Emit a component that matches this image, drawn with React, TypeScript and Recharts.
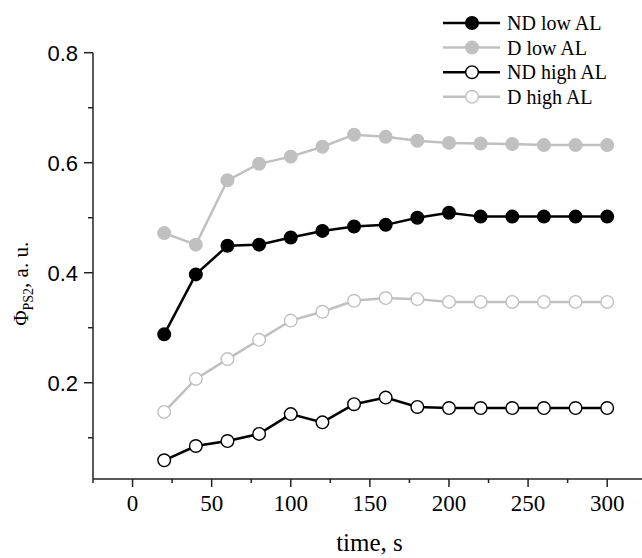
import React from "react";
import { LineChart, Line, XAxis, YAxis, Legend } from "recharts";

const times = [20, 40, 60, 80, 100, 120, 140, 160, 180, 200, 220, 240, 260, 280, 300];
const ndLow = [0.288, 0.397, 0.449, 0.451, 0.464, 0.476, 0.484, 0.487, 0.5, 0.509, 0.502, 0.502, 0.502, 0.502, 0.502];
const dLow = [0.472, 0.451, 0.568, 0.598, 0.611, 0.629, 0.651, 0.647, 0.64, 0.636, 0.635, 0.634, 0.632, 0.632, 0.632];
const ndHigh = [0.059, 0.085, 0.094, 0.107, 0.143, 0.128, 0.161, 0.173, 0.156, 0.154, 0.154, 0.154, 0.154, 0.154, 0.154];
const dHigh = [0.147, 0.207, 0.243, 0.278, 0.313, 0.329, 0.349, 0.354, 0.352, 0.347, 0.347, 0.347, 0.347, 0.347, 0.347];

const xTicks = [-25, 0, 25, 50, 75, 100, 125, 150, 175, 200, 225, 250, 275, 300];
const xMajor = [0, 50, 100, 150, 200, 250, 300];
const yTicks = [0.1, 0.2, 0.3, 0.4, 0.5, 0.6, 0.7, 0.8];
const yMajor = [0.2, 0.4, 0.6, 0.8];

const data = times.map((t, i) => ({
  t,
  ndLow: ndLow[i],
  dLow: dLow[i],
  ndHigh: ndHigh[i],
  dHigh: dHigh[i],
}));

const BLACK = "#000000";
const GRAY = "#c0c0c0";
const SERIF = '"Liberation Serif", "Times New Roman", serif';
const SANS = '"Liberation Sans", Arial, sans-serif';

const series = [
  { key: "ndLow", name: "ND low AL", color: BLACK, fill: BLACK },
  { key: "dLow", name: "D low AL", color: GRAY, fill: GRAY },
  { key: "ndHigh", name: "ND high AL", color: BLACK, fill: "#ffffff" },
  { key: "dHigh", name: "D high AL", color: GRAY, fill: "#ffffff" },
];

const XTick = (props: any) => {
  const { x, y, payload } = props;
  const v = payload.value;
  const major = xMajor.some((m) => Math.abs(m - v) < 1e-6);
  return (
    <g>
      <line x1={x} x2={x} y1={y} y2={y + (major ? 8 : 4)} stroke="#222" strokeWidth={1.5} />
      {major && (
        <text x={x} y={y + 32} textAnchor="middle" fontFamily={SERIF} fontSize={23} fill="#000">
          {v}
        </text>
      )}
    </g>
  );
};

const YTick = (props: any) => {
  const { x, y, payload } = props;
  const v = payload.value;
  const major = yMajor.some((m) => Math.abs(m - v) < 1e-6);
  return (
    <g>
      <line x1={x - (major ? 9 : 5)} x2={x} y1={y} y2={y} stroke="#222" strokeWidth={1.5} />
      {major && (
        <text x={x - 15} y={y + 8} textAnchor="end" fontFamily={SANS} fontSize={22} fill="#000">
          {v.toFixed(1)}
        </text>
      )}
    </g>
  );
};

const XLabel = (props: any) => {
  const vb = props.viewBox || {};
  const cx = vb.x + vb.width / 2 + 2;
  return (
    <text x={cx} y={551} textAnchor="middle" fontFamily={SERIF} fontSize={25} fill="#000">
      time, s
    </text>
  );
};

const YLabel = (props: any) => {
  const vb = props.viewBox || {};
  const cy = vb.y + vb.height / 2 + 18;
  const bx = 28;
  return (
    <text
      x={bx}
      y={cy}
      transform={`rotate(-90, ${bx}, ${cy})`}
      textAnchor="middle"
      fontFamily={SERIF}
      fontSize={21}
      fill="#000"
    >
      Φ
      <tspan fontSize={14} dy={5}>PS2</tspan>
      <tspan dy={-5}>, a. u.</tspan>
    </text>
  );
};

const LegendContent = () => (
  <svg width={240} height={110} style={{ display: "block" }}>
    {series.map((s, i) => {
      const cy = 23 + i * 24.6;
      return (
        <g key={s.key}>
          <line x1={33} x2={90} y1={cy} y2={cy} stroke={s.color} strokeWidth={2.5} />
          <circle cx={62} cy={cy} r={6.3} fill={s.fill} stroke={s.color} strokeWidth={1.4} />
          <text x={97} y={cy + 7} fontFamily={SERIF} fontSize={20} fill="#000">
            {s.name}
          </text>
        </g>
      );
    })}
  </svg>
);

export default function App() {
  return (
    <div style={{ position: "absolute", left: 0, top: 0, width: 642, height: 558, background: "#fff" }}>
      <LineChart
        width={642}
        height={558}
        data={data}
        margin={{ top: 52.7, right: 0, bottom: 0, left: 23 }}
      >
        <XAxis
          type="number"
          dataKey="t"
          domain={[-25, 322]}
          ticks={xTicks}
          interval={0}
          allowDataOverflow
          tickLine={false}
          tickSize={0}
          tickMargin={0}
          tick={<XTick />}
          axisLine={{ stroke: "#222", strokeWidth: 1.5 }}
          height={79}
          label={<XLabel />}
        />
        <YAxis
          type="number"
          domain={[0.025, 0.8]}
          ticks={yTicks}
          interval={0}
          allowDataOverflow
          tickLine={false}
          tickSize={0}
          tickMargin={0}
          tick={<YTick />}
          axisLine={{ stroke: "#222", strokeWidth: 1.5 }}
          width={70}
          label={<YLabel />}
        />
        <Legend
          layout="vertical"
          align="center"
          verticalAlign="middle"
          content={<LegendContent />}
          wrapperStyle={{ position: "absolute", left: 410, top: 0, width: 240, height: 110 }}
        />
        {series.map((s) => (
          <Line
            key={s.key}
            type="linear"
            dataKey={s.key}
            name={s.name}
            stroke={s.color}
            strokeWidth={2.5}
            dot={{ r: 6.3, fill: s.fill, stroke: s.color, strokeWidth: 1.4 }}
            activeDot={false}
            isAnimationActive={false}
          />
        ))}
      </LineChart>
    </div>
  );
}
